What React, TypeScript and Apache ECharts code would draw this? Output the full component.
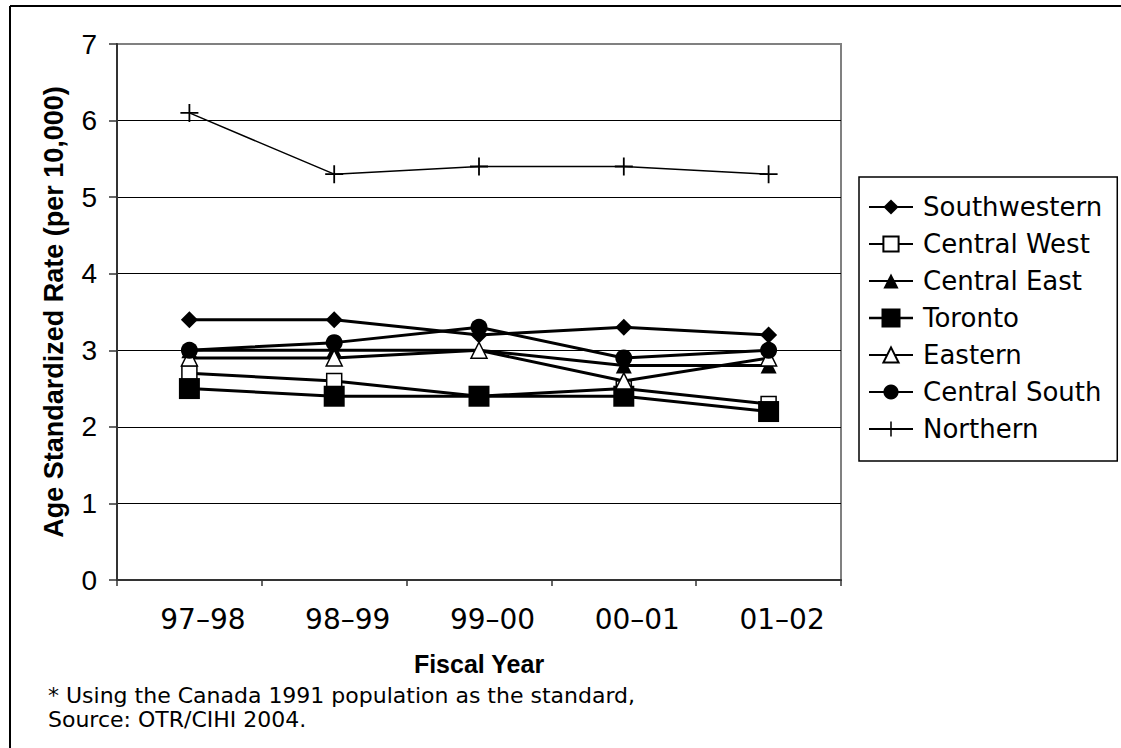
import React, { useEffect, useRef } from 'react';
import * as echarts from 'echarts';

const categories = ['97–98', '98–99', '99–00', '00–01', '01–02'];
const southwestern = [3.4, 3.4, 3.2, 3.3, 3.2];
const centralWest = [2.7, 2.6, 2.4, 2.5, 2.3];
const centralEast = [3.0, 3.0, 3.0, 2.8, 2.8];
const toronto = [2.5, 2.4, 2.4, 2.4, 2.2];
const eastern = [2.9, 2.9, 3.0, 2.6, 2.9];
const centralSouth = [3.0, 3.1, 3.3, 2.9, 3.0];
const northern = [6.1, 5.3, 5.4, 5.4, 5.3];

const yMin = 0;
const yMax = 7;
const yInterval = 1;

const xTitle = 'Fiscal Year';
const yTitle = 'Age Standardized Rate (per 10,000)';
const footnoteLines = [
  '* Using the Canada 1991 population as the standard,',
  'Source: OTR/CIHI 2004.',
];

const PLUS =
  'path://M-1,-10 L1,-10 L1,-1 L10,-1 L10,1 L1,1 L1,10 L-1,10 L-1,1 L-10,1 L-10,-1 L-1,-1 Z';
const TORONTO_ICON =
  'path://M0,8.2 L44,8.2 L44,10.8 L0,10.8 Z M12.5,0 L31.5,0 L31.5,19 L12.5,19 Z';

const mk = (
  name: string,
  data: number[],
  symbol: string,
  symbolSize: number,
  filled: boolean,
  lineWidth = 3
) => ({
  name,
  type: 'line',
  data,
  symbol,
  symbolSize,
  showAllSymbol: true,
  lineStyle: { color: '#000', width: lineWidth },
  itemStyle: filled
    ? { color: '#000' }
    : { color: '#fff', borderColor: '#000', borderWidth: 1.5 },
  emphasis: { disabled: true },
});

export default function App() {
  const ref = useRef<HTMLDivElement>(null);
  useEffect(() => {
    if (!ref.current) return;
    const chart = echarts.init(ref.current, null, { renderer: 'svg' });
    const series = [
      mk('Southwestern', southwestern, 'diamond', 17, true),
      mk('Central West', centralWest, 'rect', 15, false),
      mk('Central East', centralEast, 'triangle', 16, true),
      mk('Toronto', toronto, 'rect', 21, true),
      mk('Eastern', eastern, 'triangle', 16, false),
      mk('Central South', centralSouth, 'circle', 17, true),
      mk('Northern', northern, PLUS, 18, true, 1.5),
    ];
    chart.setOption({
      animation: false,
      backgroundColor: '#fff',
      grid: {
        show: true,
        left: 117,
        top: 44,
        right: 280,
        bottom: 168,
        borderColor: '#808080',
        borderWidth: 2,
        backgroundColor: 'transparent',
      },
      xAxis: {
        type: 'category',
        data: categories,
        boundaryGap: true,
        axisLine: { show: true, lineStyle: { color: '#333', width: 2 } },
        axisTick: { show: true, length: 6, alignWithLabel: false, lineStyle: { color: '#333', width: 1.5 } },
        axisLabel: {
          fontFamily: 'DejaVu Sans',
          fontSize: 28,
          color: '#000',
          margin: 25,
          padding: [0, 0, 0, 27],
        },
        splitLine: { show: false },
        name: xTitle,
        nameLocation: 'middle',
        nameGap: 71,
        nameTextStyle: { fontFamily: 'Liberation Sans', fontWeight: 'bold', fontSize: 25, color: '#000' },
      },
      yAxis: {
        type: 'value',
        min: yMin,
        max: yMax,
        interval: yInterval,
        axisLine: { show: true, lineStyle: { color: '#333', width: 2 } },
        axisTick: { show: true, length: 8, inside: false, lineStyle: { color: '#333', width: 1.5 } },
        axisLabel: { fontFamily: 'Liberation Sans', fontSize: 28, color: '#000', margin: 20 },
        splitLine: { show: true, showMaxLine: false, lineStyle: { color: '#000', width: 1 } },
        name: yTitle,
        nameLocation: 'middle',
        nameGap: 50,
        nameTextStyle: { fontFamily: 'Liberation Sans', fontWeight: 'bold', fontSize: 27, color: '#000' },
      },
      legend: {
        orient: 'vertical',
        left: 859,
        top: 177,
        padding: [17, 15, 19, 9],
        itemWidth: 44,
        itemHeight: 19,
        itemGap: 11,
        borderColor: '#000',
        borderWidth: 1.5,
        backgroundColor: '#fff',
        selectedMode: false,
        textStyle: { fontFamily: 'DejaVu Sans', fontSize: 26, color: '#000', padding: [0, 0, 0, 5] },
        data: [
          'Southwestern',
          'Central West',
          'Central East',
          { name: 'Toronto', icon: TORONTO_ICON },
          'Eastern',
          'Central South',
          'Northern',
        ],
      },
      graphic: [
        { type: 'line', shape: { x1: 10, y1: 6, x2: 1121, y2: 6 }, style: { stroke: '#000', lineWidth: 2 } },
        { type: 'line', shape: { x1: 10, y1: 6, x2: 10, y2: 748 }, style: { stroke: '#000', lineWidth: 2 } },
        ...footnoteLines.map((t, i) => ({
          type: 'text',
          x: 48,
          y: 695 + i * 24,
          style: {
            text: t,
            fontFamily: 'DejaVu Sans',
            fontSize: 22,
            fill: '#000',
            align: 'left',
            verticalAlign: 'middle',
          },
        })),
      ],
      series,
    });
    return () => chart.dispose();
  }, []);
  return (
    <div
      ref={ref}
      style={{ position: 'fixed', left: 0, top: 0, width: 1121, height: 748 }}
    />
  );
}
